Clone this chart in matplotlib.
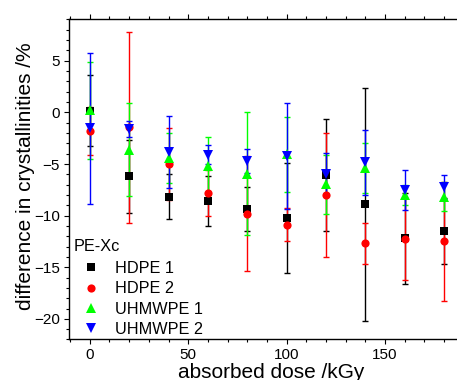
import matplotlib
matplotlib.use("Agg")
import matplotlib.pyplot as plt
from matplotlib.ticker import MultipleLocator
from matplotlib.lines import Line2D

plt.rcParams['font.family'] = ['Liberation Sans', 'DejaVu Sans']

# absorbed dose (kGy)
dose = [0, 20, 40, 60, 80, 100, 120, 140, 160, 180]

hdpe1 = [0.15, -6.2, -8.15, -8.6, -9.35, -10.25, -6.05, -8.9, -12.2, -11.5]
hdpe1_err = [3.45, 3.55, 2.15, 2.4, 2.1, 5.35, 5.45, 11.3, 4.4, 3.2]
hdpe2 = [-1.8, -1.45, -5.0, -7.8, -9.8, -10.9, -8.0, -12.7, -12.25, -12.5]
hdpe2_err = [2.3, 9.25, 3.45, 2.2, 5.6, 1.6, 6.0, 2.0, 3.95, 5.8]
uhmw1 = [0.2, -3.6, -4.4, -5.2, -5.95, -4.05, -6.95, -5.4, -8.0, -8.15]
uhmw1_err = [4.7, 4.5, 2.4, 2.8, 5.95, 3.65, 2.85, 2.4, 1.0, 1.45]
uhmw2 = [-1.55, -1.6, -3.85, -4.1, -4.7, -4.2, -5.95, -4.85, -7.5, -7.2]
uhmw2_err = [7.35, 0.8, 3.5, 0.9, 1.15, 5.15, 2.05, 3.15, 1.95, 1.15]

series = [
    ('HDPE 1', hdpe1, hdpe1_err, '#000000', 's', 5.2),
    ('HDPE 2', hdpe2, hdpe2_err, '#ff0000', 'o', 5.9),
    ('UHMWPE 1', uhmw1, uhmw1_err, '#00ff00', '^', 6.6),
    ('UHMWPE 2', uhmw2, uhmw2_err, '#0000ff', 'v', 6.6),
]

fig = plt.figure(figsize=(4.57, 3.8), dpi=100)
ax = fig.add_axes([0.1516, 0.1066, 0.8633, 0.8421])

# error bars first, markers on top
for name, y, err, col, mk, ms in series:
    ax.errorbar(dose, y, yerr=err, fmt='none', ecolor=col, elinewidth=1.0,
                capsize=2.4, capthick=1.0, zorder=2)
handles = []
for name, y, err, col, mk, ms in series:
    ax.plot(dose, y, linestyle='none', marker=mk, markersize=ms, color=col,
            markeredgewidth=0, zorder=3)
    handles.append(Line2D([], [], linestyle='none', marker=mk, markersize=ms,
                          color=col, markeredgewidth=0, label=name))

ax.set_xlim(-10.4, 190)
ax.set_ylim(-22, 9)
ax.xaxis.set_major_locator(MultipleLocator(50))
ax.xaxis.set_minor_locator(MultipleLocator(10))
ax.yaxis.set_major_locator(MultipleLocator(5))
ax.yaxis.set_minor_locator(MultipleLocator(1))

ax.tick_params(which='both', direction='out', top=True, right=False,
               width=0.8, labelsize=11)
ax.tick_params(which='major', length=3.6)
ax.tick_params(which='minor', length=2.0)
ax.tick_params(axis='x', pad=2.5)
ax.tick_params(axis='y', pad=3)
for side in ['left', 'bottom', 'top']:
    ax.spines[side].set_linewidth(1.0)
ax.spines['right'].set_visible(False)

ax.set_xlabel('absorbed dose /kGy', fontsize=15)
ax.set_ylabel('difference in crystallinities /%', fontsize=15)
ax.xaxis.set_label_coords(0.512, -0.104)
ax.xaxis.label.set_va('center')
ax.yaxis.set_label_coords(-0.112, 0.51)
ax.yaxis.label.set_va('center')

leg = ax.legend(handles=handles, title='PE-Xc', loc='upper left',
                bbox_to_anchor=(74 / 457, 1 - 239 / 380),
                bbox_transform=fig.transFigure, frameon=False,
                fontsize=11.7, title_fontsize=11.7, alignment='left',
                handlelength=2.1, handletextpad=0.4, labelspacing=0.33,
                borderpad=0, borderaxespad=0)
leg._legend_box.sep = 5

fig.savefig('out.png', dpi=100)
